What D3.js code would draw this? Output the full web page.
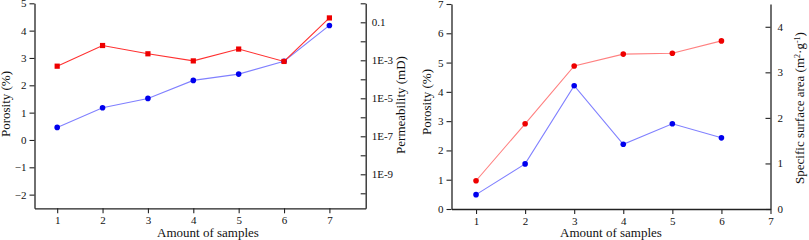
<!DOCTYPE html>
<html>
<head>
<meta charset="utf-8">
<script src="https://cdn.jsdelivr.net/npm/d3@7"></script>
<style>
  body { margin: 0; background: #fff; }
  svg text { font-family: 'Liberation Serif', 'Times New Roman', serif; fill: #111; }
</style>
</head>
<body>
<svg id="chart" width="809" height="240"></svg>
<script>
'use strict';
// left panel: porosity (linear) + permeability (log)
const SAMPLES_A = [1, 2, 3, 4, 5, 6, 7];
const POROSITY_A = [0.46, 1.18, 1.52, 2.18, 2.41, 2.88, 4.19];
const PERMEABILITY_A = [4.9e-4, 6.0e-3, 2.2e-3, 9.3e-4, 3.9e-3, 8.7e-4, 0.17];
const POROSITY_TICKS_A = [-2, -1, 0, 1, 2, 3, 4, 5];
const PERM_TICKS = [1, 0.1, 1e-2, 1e-3, 1e-4, 1e-5, 1e-6, 1e-7, 1e-8, 1e-9, 1e-10];
const PERM_LABELS = { '-1': '0.1', '-3': '1E-3', '-5': '1E-5', '-7': '1E-7', '-9': '1E-9' };

// right panel: porosity + specific surface area
const SAMPLES_B = [1, 2, 3, 4, 5, 6];
const POROSITY_B = [0.49, 1.54, 4.21, 2.21, 2.91, 2.43];
const SURFACE_B = [0.62, 1.87, 3.14, 3.40, 3.42, 3.69];
const X_TICKS_B = [1, 2, 3, 4, 5, 6, 7];
const POROSITY_TICKS_B = [0, 1, 2, 3, 4, 5, 6, 7];
const SURFACE_TICKS_B = [0, 1, 2, 3, 4];

const AXIS_COLOR = '#222';

let svg = d3.select('#chart');

function styleAxis(g) {
  g.select('.domain').attr('stroke', AXIS_COLOR).attr('stroke-width', 1.3);
  g.selectAll('.tick line').attr('stroke', AXIS_COLOR).attr('stroke-width', 1.1);
  g.selectAll('.tick text')
    .attr('font-size', 11)
    .attr('font-family', "'Liberation Serif', serif")
    .attr('fill', '#111');
}

function drawSeries(x, y, xs, ys, lineColor, dotColor, square) {
  let pts = xs.map((d, i) => [x(d), y(ys[i])]);
  svg.append('path')
    .attr('d', d3.line()(pts))
    .attr('fill', 'none')
    .attr('stroke', lineColor)
    .attr('stroke-width', 1.1);
  if (square) {
    svg.append('g').selectAll('rect').data(pts).enter().append('rect')
      .attr('x', (d) => d[0] - 2.6)
      .attr('y', (d) => d[1] - 2.6)
      .attr('width', 5.2)
      .attr('height', 5.2)
      .attr('fill', dotColor);
  } else {
    svg.append('g').selectAll('circle').data(pts).enter().append('circle')
      .attr('cx', (d) => d[0])
      .attr('cy', (d) => d[1])
      .attr('r', 2.8)
      .attr('fill', dotColor);
  }
}

function verticalTitle(x, y, text) {
  return svg.append('text')
    .attr('transform', `translate(${x},${y}) rotate(-90)`)
    .attr('text-anchor', 'middle')
    .attr('font-size', 13)
    .text(text);
}

// ---- left panel ----
let xA = d3.scaleLinear().domain([0.5, 7.8]).range([34.5, 365.7]);
let yA = d3.scaleLinear().domain([-2.5, 5]).range([208.3, 3.3]);
let yLog = d3.scaleLog().domain([Math.pow(10, -10.79), 1]).range([208.3, 3.3]);

svg.append('g')
  .attr('transform', 'translate(0,208.3)')
  .call(d3.axisBottom(xA).tickValues(SAMPLES_A).tickFormat(d3.format('d'))
    .tickSize(5).tickSizeOuter(0).tickPadding(3))
  .call(styleAxis);

svg.append('g')
  .attr('transform', 'translate(34.5,0)')
  .call(d3.axisLeft(yA).tickValues(POROSITY_TICKS_A).tickFormat(d3.format('d'))
    .tickSize(5).tickSizeOuter(0).tickPadding(3))
  .call(styleAxis);

svg.append('g')
  .attr('transform', 'translate(365.7,0)')
  .call(d3.axisRight(yLog).tickValues(PERM_TICKS)
    .tickFormat((d) => PERM_LABELS[Math.round(Math.log10(d))] || '')
    .tickSizeInner(-5).tickSizeOuter(0).tickPadding(6))
  .call(styleAxis);

drawSeries(xA, yA, SAMPLES_A, POROSITY_A, '#8080ff', '#0000ee', false);
drawSeries(xA, yLog, SAMPLES_A, PERMEABILITY_A, '#ff3030', '#ee0000', true);

verticalTitle(10, 104, 'Porosity (%)');
verticalTitle(404.5, 105, 'Permeability (mD)');
svg.append('text')
  .attr('x', 208).attr('y', 237)
  .attr('text-anchor', 'middle')
  .attr('font-size', 13)
  .text('Amount of samples');

// ---- right panel ----
let xB = d3.scaleLinear().domain([0.5, 7]).range([451.5, 770.5]);
let yB = d3.scaleLinear().domain([0, 7]).range([209, 4]);
let yS = d3.scaleLinear().domain([0, 4.5]).range([209, 4]);

svg.append('g')
  .attr('transform', 'translate(0,209)')
  .call(d3.axisBottom(xB).tickValues(X_TICKS_B).tickFormat(d3.format('d'))
    .tickSize(5).tickSizeOuter(0).tickPadding(3))
  .call(styleAxis);

svg.append('g')
  .attr('transform', 'translate(451.5,0)')
  .call(d3.axisLeft(yB).tickValues(POROSITY_TICKS_B).tickFormat(d3.format('d'))
    .tickSize(5).tickSizeOuter(0).tickPadding(3))
  .call(styleAxis);

svg.append('g')
  .attr('transform', 'translate(770.5,0)')
  .call(d3.axisRight(yS).tickValues(SURFACE_TICKS_B).tickFormat(d3.format('d'))
    .tickSizeInner(-5).tickSizeOuter(0).tickPadding(7))
  .call(styleAxis);

drawSeries(xB, yB, SAMPLES_B, POROSITY_B, '#8080ff', '#0000ee', false);
drawSeries(xB, yS, SAMPLES_B, SURFACE_B, '#ff8080', '#ee0000', false);

verticalTitle(430.5, 102, 'Porosity (%)');
let t = verticalTitle(803.5, 108, null);
t.append('tspan').text('Specific surface area (m');
t.append('tspan').attr('baseline-shift', 'super').attr('font-size', 8).text('2');
t.append('tspan').text('·g');
t.append('tspan').attr('baseline-shift', 'super').attr('font-size', 8).text('-1');
t.append('tspan').text(')');

svg.append('text')
  .attr('x', 611).attr('y', 237)
  .attr('text-anchor', 'middle')
  .attr('font-size', 13)
  .text('Amount of samples');
</script>
</body>
</html>
